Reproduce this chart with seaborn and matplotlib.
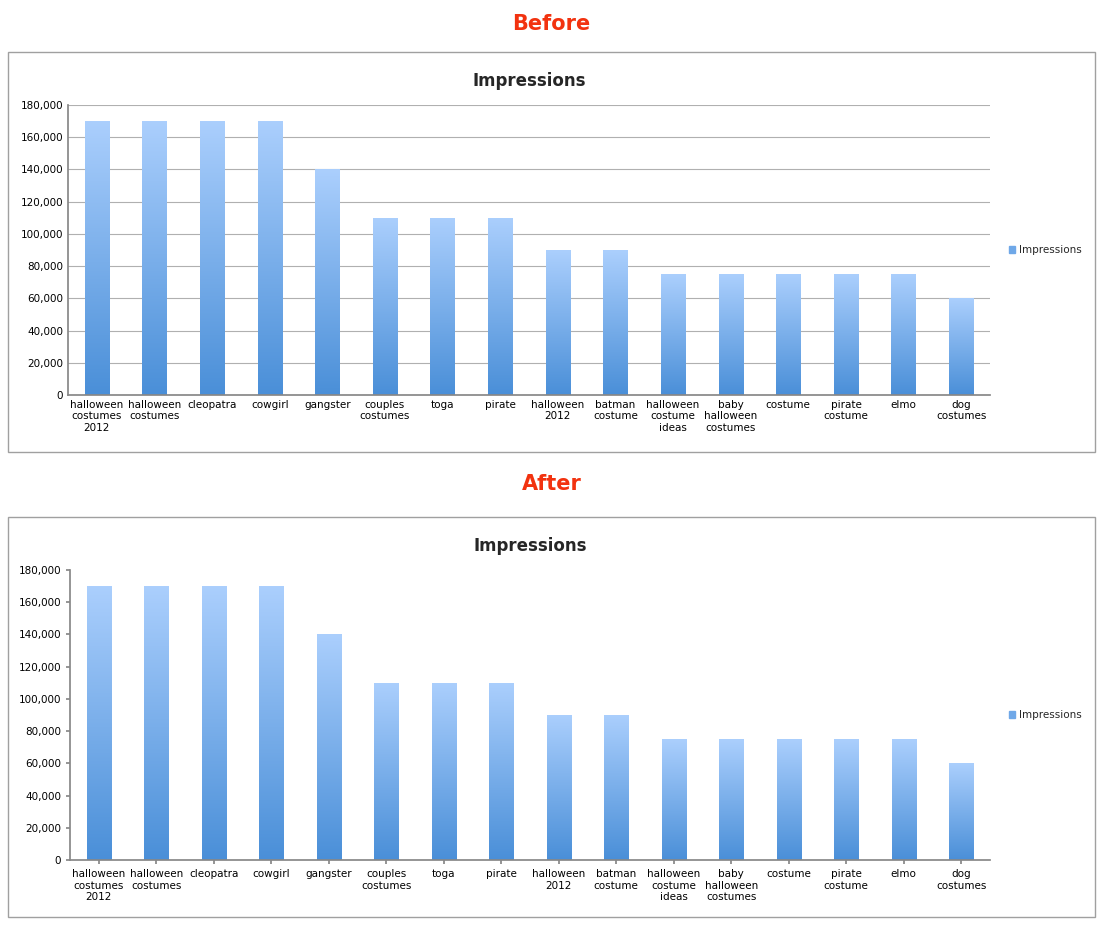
import numpy as np
import pandas as pd
import matplotlib
matplotlib.use("Agg")
import matplotlib.pyplot as plt
import seaborn as sns
from matplotlib.patches import Rectangle, Patch
from matplotlib.ticker import FuncFormatter
from matplotlib.colors import LinearSegmentedColormap

categories = ["halloween\ncostumes\n2012", "halloween\ncostumes", "cleopatra", "cowgirl", "gangster",
              "couples\ncostumes", "toga", "pirate", "halloween\n2012", "batman\ncostume",
              "halloween\ncostume\nideas", "baby\nhalloween\ncostumes", "costume", "pirate\ncostume",
              "elmo", "dog\ncostumes"]
impressions = [170000, 170000, 170000, 170000, 140000, 110000, 110000, 110000, 90000, 90000,
               75000, 75000, 75000, 75000, 75000, 60000]
yticks = list(range(0, 180001, 20000))

sns.set_theme(style="white")
plt.rcParams['font.family'] = ['DejaVu Sans']
W, H = 1103, 927
fig = plt.figure(figsize=(W/100, H/100), dpi=100)
df = pd.DataFrame({"cat": categories, "val": impressions})
cmap = LinearSegmentedColormap.from_list("g", ["#4a8fd8", "#abcffd"])
grad = np.linspace(0, 1, 256).reshape(-1, 1)

def px(x0, y0, x1, y1):
    return [x0/W, 1-y1/H, (x1-x0)/W, (y1-y0)/H]

def panel(label, label_y, box, axbox, grid):
    fig.text(0.5, 1-label_y/H, label, color="#f2320f", fontsize=15, fontweight="bold",
             ha="center", va="center")
    bx0, by0, bx1, by1 = box
    fig.patches.append(Rectangle((bx0/W, 1-by1/H), (bx1-bx0)/W, (by1-by0)/H,
                                 transform=fig.transFigure, fill=False, edgecolor="#a0a0a0", lw=1))
    ax = fig.add_axes(px(*axbox))
    sns.barplot(data=df, x="cat", y="val", ax=ax, width=0.42, color="#6fa8e8", saturation=1)
    for p in ax.patches:
        x0 = p.get_x(); w = p.get_width(); h = p.get_height()
        im = ax.imshow(grad, extent=[x0, x0+w, 0, h], origin="lower", cmap=cmap,
                       aspect="auto", zorder=2)
        im.set_clip_path(p)
        p.set_facecolor("none"); p.set_edgecolor("none")
    ax.set_xlim(-0.5, len(categories)-0.5)
    ax.set_ylim(0, 180000)
    ax.set_yticks(yticks)
    ax.yaxis.set_major_formatter(FuncFormatter(lambda v, _: f"{int(v):,}"))
    ax.set_xlabel(""); ax.set_ylabel("")
    ax.tick_params(axis="both", labelsize=7.5, colors="black")
    ax.set_title("Impressions", fontsize=12, fontweight="bold", pad=14)
    for s in ["top", "right"]:
        ax.spines[s].set_visible(False)
    ax.spines["left"].set_color("#888888"); ax.spines["bottom"].set_color("#888888")
    if grid:
        ax.yaxis.grid(True, color="#b0b0b0", lw=0.8); ax.set_axisbelow(True)
        ax.tick_params(axis="both", length=0)
    else:
        ax.tick_params(axis="y", length=3, color="#888888", left=True)
        ax.tick_params(axis="x", length=3, color="#888888", bottom=True)
    leg = ax.legend(handles=[Patch(color="#6fa8e8", label="Impressions")], loc="center left",
                    bbox_to_anchor=(1.01, 0.5), frameon=False, fontsize=7.5,
                    handlelength=0.6, handleheight=0.6, handletextpad=0.4)
    return ax

panel("Before", 24, (8, 52, 1095, 452), (68, 105, 990, 395), True)
panel("After", 484, (8, 517, 1095, 917), (70, 570, 990, 860), False)
fig.savefig("out.png", dpi=100)
